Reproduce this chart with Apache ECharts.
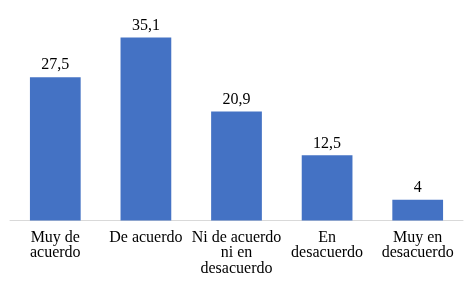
<!DOCTYPE html>
<html>
<head>
<meta charset="utf-8">
<script src="https://cdn.jsdelivr.net/npm/echarts@6/dist/echarts.min.js"></script>
<style>
html,body{margin:0;padding:0;background:#fff;}
#c{width:475px;height:284px;}
</style>
</head>
<body>
<div id="c"></div>
<script>
var categories = ['Muy de\nacuerdo', 'De acuerdo', 'Ni de acuerdo\nni en\ndesacuerdo', 'En\ndesacuerdo', 'Muy en\ndesacuerdo'];
var values = [27.5, 35.1, 20.9, 12.5, 4];
var FONT = '"Liberation Serif", "Times New Roman", Times, serif';

var chart = echarts.init(document.getElementById('c'));
chart.setOption({
  animation: false,
  grid: {left: 10, right: 12, top: 12, bottom: 63.5, containLabel: false},
  xAxis: {
    type: 'category',
    data: categories,
    axisLine: {lineStyle: {color: '#d9d9d9', width: 1}},
    axisTick: {show: false},
    axisLabel: {
      interval: 0,
      margin: 9,
      fontFamily: FONT,
      fontSize: 16,
      lineHeight: 15.7,
      color: '#000'
    }
  },
  yAxis: {
    type: 'value',
    min: 0,
    max: 40,
    show: false,
    splitLine: {show: false}
  },
  series: [{
    type: 'bar',
    data: values,
    barWidth: '56%',
    itemStyle: {color: '#4472C4'},
    label: {
      show: true,
      position: 'top',
      distance: 4,
      fontFamily: FONT,
      fontSize: 16,
      color: '#000',
      formatter: function (p) { return String(p.value).replace('.', ','); }
    }
  }]
});
</script>
</body>
</html>
